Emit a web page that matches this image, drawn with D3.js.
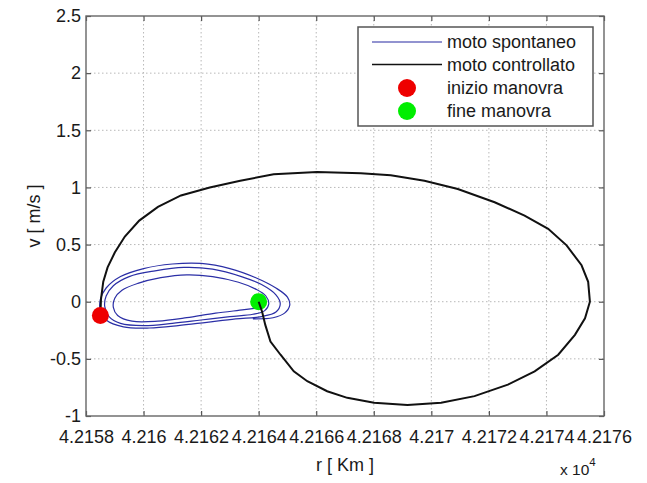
<!DOCTYPE html>
<html>
<head>
<meta charset="utf-8">
<script src="https://cdn.jsdelivr.net/npm/d3@7/dist/d3.min.js"></script>
<style>
  html, body { margin: 0; padding: 0; background: #fff; }
  svg { display: block; }
  text { font-family: "Liberation Sans", Arial, Helvetica, sans-serif; fill: #1a1a1a; }
</style>
</head>
<body>
<svg id="chart" width="647" height="483"></svg>
<script>
// Radial distance r [Km] and radial velocity v [m/s]
const xTicks = [42158, 42160, 42162, 42164, 42166, 42168, 42170, 42172, 42174, 42176];
const xTickLabels = ["4.2158", "4.216", "4.2162", "4.2164", "4.2166", "4.2168", "4.217", "4.2172", "4.2174", "4.2176"];
const yTicks = [-1, -0.5, 0, 0.5, 1, 1.5, 2, 2.5];
const yTickLabels = ["-1", "-0.5", "0", "0.5", "1", "1.5", "2", "2.5"];

// Uncontrolled drift (moto spontaneo): three nested loops
const spontR = [
  42164.1, 42163.5, 42162.5, 42161.5, 42160.5, 42159.6, 42159.1, 42158.95, 42159.0, 42159.25,
  42159.8, 42160.6, 42161.5, 42162.4, 42163.3, 42163.9, 42164.25, 42164.35, 42164.2, 42163.8,
  42163.0, 42162.0, 42161.0, 42160.0, 42159.2, 42158.8, 42158.65, 42158.7, 42158.95, 42159.5,
  42160.4, 42161.4, 42162.4, 42163.4, 42164.1, 42164.6, 42164.75, 42164.6, 42164.1,
  42163.2, 42162.2, 42161.2, 42160.2, 42159.3, 42158.7, 42158.5, 42158.5, 42158.7, 42159.2,
  42160.0, 42161.0, 42162.0, 42163.0, 42163.9, 42164.6, 42165.0, 42165.08, 42164.9, 42164.5, 42163.8
];
const spontV = [
  -0.05, -0.07, -0.10, -0.14, -0.17, -0.17, -0.12, -0.05, 0.03, 0.10,
  0.16, 0.21, 0.235, 0.22, 0.17, 0.11, 0.05, -0.02, -0.08, -0.11,
  -0.13, -0.16, -0.19, -0.21, -0.19, -0.13, -0.04, 0.05, 0.14, 0.22,
  0.27, 0.30, 0.285, 0.22, 0.15, 0.06, -0.02, -0.09, -0.13,
  -0.15, -0.18, -0.21, -0.23, -0.22, -0.16, -0.08, 0.02, 0.12, 0.22,
  0.29, 0.33, 0.335, 0.29, 0.21, 0.12, 0.04, -0.03, -0.10, -0.14, -0.15
];

// Controlled trajectory (moto controllato) from start to end of manoeuvre
const ctrlR = [
  42158.5, 42158.52, 42158.6, 42158.75, 42159.0, 42159.35, 42159.85, 42160.5, 42161.3, 42162.3,
  42163.36, 42164.52, 42166.03, 42167.55, 42168.59, 42169.76, 42170.92, 42172.2, 42173.24, 42174.06,
  42174.7, 42175.22, 42175.45, 42175.51, 42175.34, 42174.99, 42174.41, 42173.59, 42172.66, 42171.5,
  42170.34, 42169.17, 42168.01, 42167.08, 42166.38, 42165.69, 42165.22, 42164.76, 42164.41, 42164.23,
  42164.12, 42164.0
];
const ctrlV = [
  -0.12, 0.02, 0.175, 0.30, 0.43, 0.57, 0.71, 0.83, 0.93, 1.0,
  1.058, 1.116, 1.136, 1.125, 1.107, 1.058, 0.986, 0.87, 0.754, 0.638,
  0.493, 0.319, 0.174, 0.0, -0.145, -0.29, -0.464, -0.609, -0.725, -0.826,
  -0.884, -0.904, -0.884, -0.841, -0.783, -0.696, -0.609, -0.464, -0.348, -0.203,
  -0.087, 0.0
];

const startPoint = { r: 42158.5, v: -0.12 };  // inizio manovra
const endPoint = { r: 42164.0, v: 0.0 };      // fine manovra

const legendLabels = ["moto spontaneo", "moto controllato", "inizio manovra", "fine manovra"];

const svg = d3.select("#chart");
const plotLeft = 86, plotRight = 604, plotTop = 16, plotBottom = 416;
const x = d3.scaleLinear().domain([42158, 42176]).range([plotLeft, plotRight]);
const y = d3.scaleLinear().domain([-1, 2.5]).range([plotBottom, plotTop]);

const blue = "#2b2fa6";
const fontSize = 18;

// dotted grid
const grid = svg.append("g");
grid.selectAll("line.vx").data(xTicks.slice(1, -1)).join("line")
  .attr("x1", d => x(d)).attr("x2", d => x(d)).attr("y1", plotTop).attr("y2", plotBottom)
  .attr("stroke", "#b8b8b8").attr("stroke-width", 1).attr("stroke-dasharray", "1.5,2.5");
grid.selectAll("line.hy").data(yTicks.slice(1, -1)).join("line")
  .attr("y1", d => y(d)).attr("y2", d => y(d)).attr("x1", plotLeft).attr("x2", plotRight)
  .attr("stroke", "#b8b8b8").attr("stroke-width", 1).attr("stroke-dasharray", "1.5,2.5");

// axes with inward ticks
const axisStyle = g => {
  g.select(".domain").remove();
  g.selectAll(".tick line").attr("stroke", "#555").attr("stroke-width", 1.2);
  g.selectAll(".tick text").attr("font-size", fontSize).attr("fill", "#1a1a1a")
    .style("font-family", '"Liberation Sans", Arial, sans-serif');
};
svg.append("g").attr("transform", `translate(0,${plotBottom})`)
  .call(d3.axisBottom(x).tickValues(xTicks).tickFormat((d, i) => xTickLabels[i]).tickSize(-5).tickPadding(14))
  .call(axisStyle);
svg.append("g").attr("transform", `translate(0,${plotTop})`)
  .call(d3.axisTop(x).tickValues(xTicks).tickFormat("").tickSize(-5))
  .call(axisStyle);
svg.append("g").attr("transform", `translate(${plotLeft},0)`)
  .call(d3.axisLeft(y).tickValues(yTicks).tickFormat((d, i) => yTickLabels[i]).tickSize(-5).tickPadding(5))
  .call(axisStyle);
svg.append("g").attr("transform", `translate(${plotRight},0)`)
  .call(d3.axisRight(y).tickValues(yTicks).tickFormat("").tickSize(-5))
  .call(axisStyle);

// curves
const spont = spontR.map((r, i) => [r, spontV[i]]);
const ctrl = ctrlR.map((r, i) => [r, ctrlV[i]]);

svg.append("path").datum(spont)
  .attr("d", d3.line().x(d => x(d[0])).y(d => y(d[1])).curve(d3.curveCatmullRom.alpha(0.5)))
  .attr("fill", "none").attr("stroke", blue).attr("stroke-width", 1.2);

svg.append("circle").attr("cx", x(endPoint.r)).attr("cy", y(endPoint.v)).attr("r", 8.5)
  .attr("fill", "#00ee00");

svg.append("path").datum(ctrl)
  .attr("d", d3.line().x(d => x(d[0])).y(d => y(d[1])).curve(d3.curveLinear))
  .attr("fill", "none").attr("stroke", "#111").attr("stroke-width", 2);

svg.append("circle").attr("cx", x(startPoint.r)).attr("cy", y(startPoint.v)).attr("r", 8.5)
  .attr("fill", "#ee0000");

// plot box
svg.append("rect").attr("x", plotLeft).attr("y", plotTop)
  .attr("width", plotRight - plotLeft).attr("height", plotBottom - plotTop)
  .attr("fill", "none").attr("stroke", "#666").attr("stroke-width", 1.4);

// legend
const lg = svg.append("g");
lg.append("rect").attr("x", 358).attr("y", 27).attr("width", 235).attr("height", 99)
  .attr("fill", "#fff").attr("stroke", "#555").attr("stroke-width", 1.5);
const rowY = [42, 64.5, 88, 111];
lg.append("line").attr("x1", 372).attr("x2", 442).attr("y1", rowY[0]).attr("y2", rowY[0])
  .attr("stroke", "#6e6fc0").attr("stroke-width", 1.3);
lg.append("line").attr("x1", 372).attr("x2", 442).attr("y1", rowY[1]).attr("y2", rowY[1])
  .attr("stroke", "#111").attr("stroke-width", 1.6);
lg.append("circle").attr("cx", 407).attr("cy", rowY[2]).attr("r", 9).attr("fill", "#ee0000");
lg.append("circle").attr("cx", 407).attr("cy", rowY[3]).attr("r", 9).attr("fill", "#00ee00");
lg.selectAll("text.lab").data(legendLabels).join("text")
  .attr("x", 447).attr("y", (d, i) => rowY[i]).attr("dy", "0.35em")
  .attr("font-size", fontSize).text(d => d);

// axis titles
svg.append("text").attr("x", (plotLeft + plotRight) / 2).attr("y", 471).attr("text-anchor", "middle")
  .attr("font-size", fontSize).text("r [ Km ]");
svg.append("text").attr("transform", `translate(40,${(plotTop + plotBottom) / 2}) rotate(-90)`)
  .attr("text-anchor", "middle").attr("font-size", fontSize).text("v [ m/s ]");

// exponent note
const ex = svg.append("text").attr("x", 560).attr("y", 475).attr("font-size", fontSize - 2.5);
ex.append("tspan").text("x 10");
ex.append("tspan").attr("dy", -9).attr("font-size", fontSize - 6.5).text("4");
</script>
</body>
</html>
